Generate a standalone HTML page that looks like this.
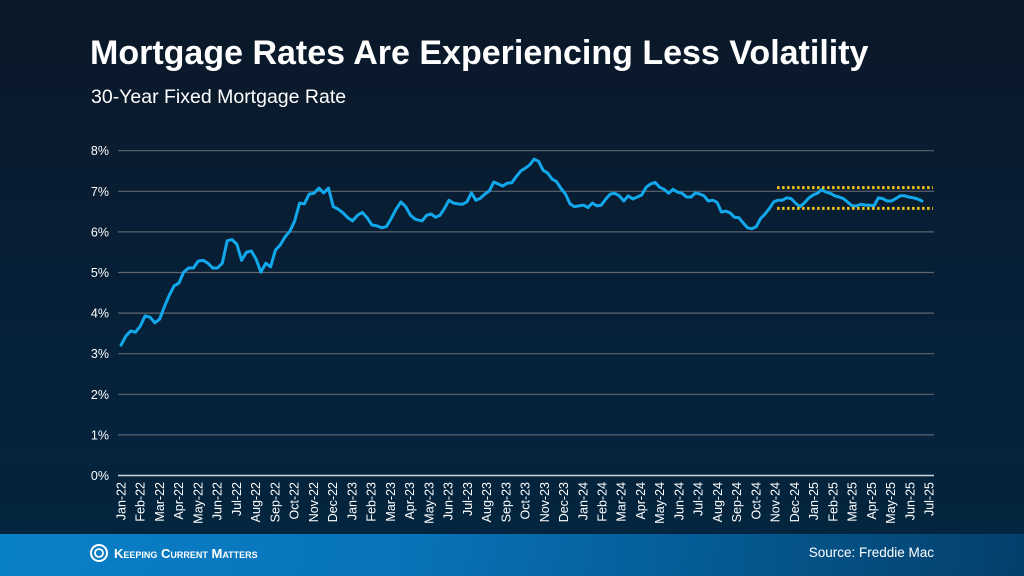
<!DOCTYPE html>
<html><head><meta charset="utf-8">
<style>
html,body{margin:0;padding:0;}
body{width:1024px;height:576px;overflow:hidden;font-family:"Liberation Sans",Arial,sans-serif;background:linear-gradient(180deg,#0b1828 0%,#06213a 60%,#032640 100%);position:relative;}
#title{position:absolute;left:90px;top:34px;color:#fff;font-weight:bold;font-size:34px;margin:0;letter-spacing:0px;}
#sub{position:absolute;left:91px;top:86px;color:#fff;font-size:19.5px;}
#footer{position:absolute;left:0;top:534px;width:1024px;height:42px;background:linear-gradient(100deg,#0a80c9 0%,#0873b8 40%,#055a92 70%,#043f6b 100%);}
#src{position:absolute;right:90px;top:11px;color:#fff;font-size:13.5px;}
#logo{position:absolute;left:90px;top:10px;color:#fff;font-size:12px;font-weight:bold;display:flex;align-items:center;gap:6px;}
svg{position:absolute;left:0;top:0;}
</style></head><body>
<div id="title">Mortgage Rates Are Experiencing Less Volatility</div>
<div id="sub">30-Year Fixed Mortgage Rate</div>
<svg id="chart" width="1024" height="576"></svg>
<div id="footer">
<div id="logo"><svg width="18" height="18" style="position:static"><circle cx="9" cy="9" r="8" fill="none" stroke="#fff" stroke-width="2"/><circle cx="9" cy="9" r="4" fill="none" stroke="#fff" stroke-width="1.8"/></svg><span style="font-variant:small-caps;font-size:13px">Keeping Current Matters</span></div>
<div id="src">Source: Freddie Mac</div>
</div>
<script>
const yTicks=[0,1,2,3,4,5,6,7,8];
const yTickLabels=["0%","1%","2%","3%","4%","5%","6%","7%","8%"];
const monthLabels=["Jan-22","Feb-22","Mar-22","Apr-22","May-22","Jun-22","Jul-22","Aug-22","Sep-22","Oct-22","Nov-22","Dec-22","Jan-23","Feb-23","Mar-23","Apr-23","May-23","Jun-23","Jul-23","Aug-23","Sep-23","Oct-23","Nov-23","Dec-23","Jan-24","Feb-24","Mar-24","Apr-24","May-24","Jun-24","Jul-24","Aug-24","Sep-24","Oct-24","Nov-24","Dec-24","Jan-25","Feb-25","Mar-25","Apr-25","May-25","Jun-25","Jul-25"];
// weekly rates in three periods, each with start/end month (months since Jan-22)
const period1Months=[0,15.3];
const rates1=[3.21,3.43,3.56,3.53,3.68,3.93,3.90,3.76,3.85,4.16,4.44,4.67,4.74,5.01,5.11,5.11,5.28,5.30,5.23,5.11,5.11,5.23,5.78,5.81,5.70,5.30,5.50,5.53,5.33,5.01,5.23,5.14,5.55,5.68,5.88,6.02,6.27,6.71,6.69,6.93,6.95,7.08,6.96,7.08,6.62,6.56,6.47,6.35,6.27,6.41,6.48,6.35,6.17,6.15,6.10,6.13,6.33,6.56,6.74,6.62,6.41,6.31];
const period2Months=[15.65,30.09];
const rates2=[6.27,6.41,6.44,6.36,6.41,6.58,6.78,6.71,6.69,6.68,6.74,6.96,6.78,6.83,6.93,7.01,7.23,7.18,7.13,7.20,7.21,7.36,7.50,7.57,7.65,7.79,7.74,7.52,7.45,7.30,7.24,7.07,6.93,6.69,6.62,6.64,6.66,6.60,6.71,6.64,6.66,6.81,6.93,6.95,6.89,6.76,6.89,6.81,6.86,6.91,7.10,7.18,7.22,7.10,7.05,6.95,7.05,6.98,6.95,6.86,6.86,6.96,6.93];
const period3Months=[30.3,41.63];
const rates3=[6.89,6.76,6.78,6.73,6.49,6.51,6.47,6.36,6.35,6.22,6.10,6.08,6.13,6.33,6.44,6.58,6.74,6.78,6.78,6.84,6.82,6.71,6.62,6.71,6.83,6.91,6.95,7.04,6.98,6.95,6.89,6.86,6.82,6.73,6.64,6.64,6.68,6.66,6.66,6.64,6.84,6.82,6.76,6.76,6.82,6.89,6.89,6.86,6.84,6.81,6.76];
const bandUpper=7.09, bandLower=6.58;
const bandStartMonth=34.1, bandEndMonth=42.2;

const svg=document.getElementById('chart');
const NS='http://www.w3.org/2000/svg';
const X0=121, MW=19.24, Y0=475.5, UNIT=40.6, GX0=118, GX1=934;
const xScale=m=>X0+m*MW;
const yScale=v=>Y0-v*UNIT;
function mk(tag,attrs){const e=document.createElementNS(NS,tag);for(const k in attrs)e.setAttribute(k,attrs[k]);svg.appendChild(e);return e;}
yTicks.forEach((t,i)=>{
  const l=mk('line',{x1:GX0,x2:GX1,y1:yScale(t),y2:yScale(t),stroke:t===0?'#cfd6dc':'#5d666e','stroke-width':t===0?1.6:1.2});
  
  
  const tx=mk('text',{x:109,y:yScale(t)+4.5,fill:'#fff','font-size':12.5,'text-anchor':'end','font-family':'Liberation Sans, sans-serif'});
  tx.textContent=yTickLabels[i];
  
  
});
monthLabels.forEach((lab,i)=>{
  const x=xScale(i)+4.5;
  const tx=mk('text',{x:0,y:0,fill:'#fff','font-size':12.5,'text-anchor':'end','font-family':'Liberation Sans, sans-serif',transform:`translate(${x},482) rotate(-90)`});
  tx.textContent=lab;
  
  
});
const pts=[];
[[period1Months,rates1],[period2Months,rates2],[period3Months,rates3]].forEach(([pm,r])=>{
  const n=r.length;
  r.forEach((v,i)=>{const m=pm[0]+(pm[1]-pm[0])*i/(n-1);pts.push(xScale(m).toFixed(1)+','+yScale(v).toFixed(1));});
});
const pl=mk('polyline',{points:pts.join(' '),fill:'none',stroke:'#12a8ec','stroke-width':3,'stroke-linejoin':'round','stroke-linecap':'round'});


[bandUpper,bandLower].forEach((v,i)=>{
  const l=mk('line',{x1:xScale(bandStartMonth),x2:xScale(bandEndMonth),y1:yScale(v),y2:yScale(v),stroke:'#f2c318','stroke-width':3,'stroke-dasharray':'2.5 2.5'});
  
  
});
</script>
</body></html>
